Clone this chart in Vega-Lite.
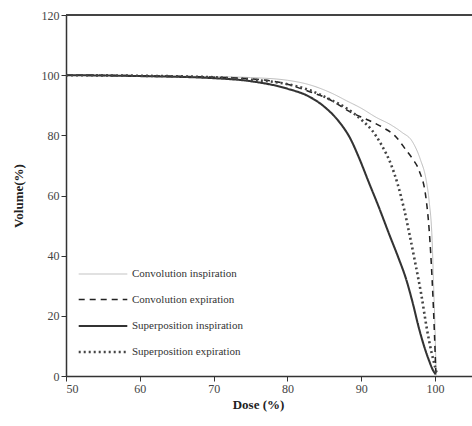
{
  "$schema": "https://vega.github.io/schema/vega-lite/v6.json",
  "width": 406,
  "height": 361,
  "autosize": {"type": "none"},
  "padding": {"left": 66, "top": 15, "right": 0, "bottom": 50},
  "config": {
    "view": {"stroke": null},
    "font": "Liberation Serif",
    "axis": {
      "grid": false,
      "domainColor": "#333",
      "domainWidth": 1.5,
      "tickColor": "#333",
      "tickSize": 5,
      "labelColor": "#444",
      "titleColor": "#222",
      "labelFont": "Liberation Serif",
      "titleFont": "Liberation Serif",
      "labelFontSize": 12,
      "titleFontSize": 13,
      "titleFontWeight": "bold"
    },
    "legend": {
      "labelFont": "Liberation Serif",
      "labelFontSize": 11,
      "labelColor": "#333"
    }
  },
  "data": {
    "values": [
      {"series": "Convolution inspiration", "dose": 50, "volume": 100},
      {"series": "Convolution inspiration", "dose": 60, "volume": 99.8},
      {"series": "Convolution inspiration", "dose": 70, "volume": 99.5},
      {"series": "Convolution inspiration", "dose": 75, "volume": 99.2},
      {"series": "Convolution inspiration", "dose": 80, "volume": 98.3},
      {"series": "Convolution inspiration", "dose": 83, "volume": 96.8},
      {"series": "Convolution inspiration", "dose": 86, "volume": 94},
      {"series": "Convolution inspiration", "dose": 88, "volume": 91.5},
      {"series": "Convolution inspiration", "dose": 90, "volume": 89},
      {"series": "Convolution inspiration", "dose": 92, "volume": 86},
      {"series": "Convolution inspiration", "dose": 94, "volume": 83.5},
      {"series": "Convolution inspiration", "dose": 95.5, "volume": 81},
      {"series": "Convolution inspiration", "dose": 96.9, "volume": 78},
      {"series": "Convolution inspiration", "dose": 98, "volume": 72},
      {"series": "Convolution inspiration", "dose": 98.8, "volume": 65},
      {"series": "Convolution inspiration", "dose": 99.2, "volume": 58},
      {"series": "Convolution inspiration", "dose": 99.6, "volume": 45},
      {"series": "Convolution inspiration", "dose": 99.8, "volume": 30},
      {"series": "Convolution inspiration", "dose": 100, "volume": 15},
      {"series": "Convolution inspiration", "dose": 100.1, "volume": 5},
      {"series": "Convolution inspiration", "dose": 100.2, "volume": 0},
      {"series": "Convolution expiration", "dose": 50, "volume": 100},
      {"series": "Convolution expiration", "dose": 60, "volume": 99.8},
      {"series": "Convolution expiration", "dose": 70, "volume": 99.3},
      {"series": "Convolution expiration", "dose": 75, "volume": 98.8},
      {"series": "Convolution expiration", "dose": 80, "volume": 97},
      {"series": "Convolution expiration", "dose": 83, "volume": 94.5},
      {"series": "Convolution expiration", "dose": 85.3, "volume": 92.4},
      {"series": "Convolution expiration", "dose": 88.8, "volume": 87.4},
      {"series": "Convolution expiration", "dose": 91, "volume": 85},
      {"series": "Convolution expiration", "dose": 93, "volume": 82.5},
      {"series": "Convolution expiration", "dose": 94.5, "volume": 80},
      {"series": "Convolution expiration", "dose": 96.1, "volume": 75},
      {"series": "Convolution expiration", "dose": 97, "volume": 72},
      {"series": "Convolution expiration", "dose": 97.8, "volume": 68.5},
      {"series": "Convolution expiration", "dose": 98.8, "volume": 58.5},
      {"series": "Convolution expiration", "dose": 99.2, "volume": 48.5},
      {"series": "Convolution expiration", "dose": 99.6, "volume": 32},
      {"series": "Convolution expiration", "dose": 99.9, "volume": 15},
      {"series": "Convolution expiration", "dose": 100.1, "volume": 1},
      {"series": "Superposition inspiration", "dose": 50, "volume": 100},
      {"series": "Superposition inspiration", "dose": 60, "volume": 99.7},
      {"series": "Superposition inspiration", "dose": 70, "volume": 99},
      {"series": "Superposition inspiration", "dose": 75, "volume": 98},
      {"series": "Superposition inspiration", "dose": 80, "volume": 95.5},
      {"series": "Superposition inspiration", "dose": 83, "volume": 92.8},
      {"series": "Superposition inspiration", "dose": 85, "volume": 89.5},
      {"series": "Superposition inspiration", "dose": 87, "volume": 84.5},
      {"series": "Superposition inspiration", "dose": 88.5, "volume": 79},
      {"series": "Superposition inspiration", "dose": 89.7, "volume": 72.5},
      {"series": "Superposition inspiration", "dose": 91, "volume": 64.5},
      {"series": "Superposition inspiration", "dose": 92.4, "volume": 56},
      {"series": "Superposition inspiration", "dose": 93.8, "volume": 47},
      {"series": "Superposition inspiration", "dose": 95, "volume": 39.5},
      {"series": "Superposition inspiration", "dose": 96.1, "volume": 32},
      {"series": "Superposition inspiration", "dose": 97, "volume": 24},
      {"series": "Superposition inspiration", "dose": 97.8, "volume": 16},
      {"series": "Superposition inspiration", "dose": 98.5, "volume": 10},
      {"series": "Superposition inspiration", "dose": 99.2, "volume": 5},
      {"series": "Superposition inspiration", "dose": 99.7, "volume": 2},
      {"series": "Superposition inspiration", "dose": 100.1, "volume": 0.5},
      {"series": "Superposition expiration", "dose": 50, "volume": 100},
      {"series": "Superposition expiration", "dose": 60, "volume": 99.8},
      {"series": "Superposition expiration", "dose": 70, "volume": 99.3},
      {"series": "Superposition expiration", "dose": 75, "volume": 98.5},
      {"series": "Superposition expiration", "dose": 80, "volume": 97},
      {"series": "Superposition expiration", "dose": 83, "volume": 95},
      {"series": "Superposition expiration", "dose": 85.7, "volume": 92},
      {"series": "Superposition expiration", "dose": 88, "volume": 89},
      {"series": "Superposition expiration", "dose": 90.1, "volume": 85},
      {"series": "Superposition expiration", "dose": 91.5, "volume": 81.5},
      {"series": "Superposition expiration", "dose": 92.7, "volume": 77},
      {"series": "Superposition expiration", "dose": 94, "volume": 70.5},
      {"series": "Superposition expiration", "dose": 94.9, "volume": 64},
      {"series": "Superposition expiration", "dose": 95.8, "volume": 55.5},
      {"series": "Superposition expiration", "dose": 96.5, "volume": 47.5},
      {"series": "Superposition expiration", "dose": 97.4, "volume": 36.5},
      {"series": "Superposition expiration", "dose": 98.1, "volume": 27.5},
      {"series": "Superposition expiration", "dose": 98.9, "volume": 15.5},
      {"series": "Superposition expiration", "dose": 99.5, "volume": 8},
      {"series": "Superposition expiration", "dose": 99.9, "volume": 4},
      {"series": "Superposition expiration", "dose": 100.2, "volume": 1}
    ]
  },
  "layer": [
    {
      "mark": {"type": "line", "interpolate": "monotone"},
      "encoding": {
        "x": {
          "field": "dose",
          "type": "quantitative",
          "scale": {"domain": [50, 105], "nice": false, "zero": false},
          "axis": {"values": [50, 60, 70, 80, 90, 100], "title": "Dose (%)", "titleX": 192, "titlePadding": 4}
        },
        "y": {
          "field": "volume",
          "type": "quantitative",
          "scale": {"domain": [0, 120], "nice": false},
          "axis": {"values": [0, 20, 40, 60, 80, 100, 120], "title": "Volume(%)", "titleX": -41}
        },
        "color": {
          "field": "series",
          "type": "nominal",
          "sort": null,
          "scale": {
            "domain": ["Convolution inspiration", "Convolution expiration", "Superposition inspiration", "Superposition expiration"],
            "range": ["#bdbdbd", "#222222", "#333333", "#444444"]
          },
          "legend": {
            "title": null,
            "orient": "none",
            "legendX": 22,
            "legendY": 245,
            "padding": 0,
            "rowPadding": 6,
            "symbolType": "M-1.8,0H1.8",
            "symbolSize": 729,
            "labelOffset": 14
          }
        },
        "strokeDash": {
          "field": "series",
          "type": "nominal",
          "sort": null,
          "scale": {
            "domain": ["Convolution inspiration", "Convolution expiration", "Superposition inspiration", "Superposition expiration"],
            "range": [[1, 0], [6, 5], [1, 0], [2, 3]]
          }
        },
        "strokeWidth": {
          "field": "series",
          "type": "nominal",
          "sort": null,
          "scale": {
            "domain": ["Convolution inspiration", "Convolution expiration", "Superposition inspiration", "Superposition expiration"],
            "range": [1, 2.6, 1.6, 1.5]
          }
        }
      }
    },
    {
      "mark": {"type": "rule", "color": "#444", "strokeWidth": 1.2},
      "encoding": {"y": {"datum": 120, "type": "quantitative"}}
    }
  ]
}
